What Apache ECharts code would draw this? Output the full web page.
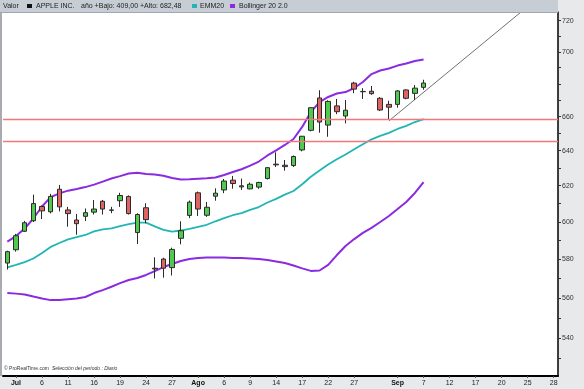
<!DOCTYPE html>
<html><head><meta charset="utf-8">
<script src="https://cdn.jsdelivr.net/npm/echarts@6/dist/echarts.min.js"></script>
<style>html,body{margin:0;padding:0;background:#e7e9eb}#c{width:584px;height:389px}</style>
</head><body><div id="c"></div><script>
// ---- data ----
const dates = ['2012-06-29','2012-07-02','2012-07-03','2012-07-05','2012-07-06','2012-07-09','2012-07-10','2012-07-11','2012-07-12','2012-07-13','2012-07-16','2012-07-17','2012-07-18','2012-07-19','2012-07-20','2012-07-23','2012-07-24','2012-07-25','2012-07-26','2012-07-27','2012-07-30','2012-07-31','2012-08-01','2012-08-02','2012-08-03','2012-08-06','2012-08-07','2012-08-08','2012-08-09','2012-08-10','2012-08-13','2012-08-14','2012-08-15','2012-08-16','2012-08-17','2012-08-20','2012-08-21','2012-08-22','2012-08-23','2012-08-24','2012-08-27','2012-08-28','2012-08-29','2012-08-30','2012-08-31','2012-09-04','2012-09-05','2012-09-06','2012-09-07','2012-09-10','2012-09-11','2012-09-12','2012-09-13','2012-09-14','2012-09-17','2012-09-18','2012-09-19','2012-09-20','2012-09-21','2012-09-24','2012-09-25','2012-09-26','2012-09-27','2012-09-28'];
const open  = [578.0,585.0,594.9,600.6,608.4,605.5,618.0,606.5,601.0,603.0,605.3,611.3,606.5,611.6,614.0,594.2,607.7,575.3,580.1,575.6,591.1,603.5,616.0,603.6,614.1,617.6,623.1,619.3,618.2,619.2,624.0,632.2,631.6,631.4,640.4,651.9,671.3,655.0,666.5,660.4,680.4,675.3,675.4,671.1,667.4,667.4,676.2,674.1,677.8];
const high  = [584.5,593.5,600.5,615.0,609.0,615.4,620.4,608.2,604.3,607.3,612.0,612.0,608.2,616.0,614.5,604.7,610.2,581.0,580.8,586.1,600.3,611.7,616.7,610.9,618.5,623.8,625.5,624.0,621.8,622.2,630.4,639.0,634.6,637.2,648.6,665.6,676.0,669.9,670.7,670.1,681.2,677.3,678.6,671.8,669.6,676.2,676.6,679.2,682.48];
const low   = [574.6,584.0,594.5,599.9,601.5,604.6,605.7,597.4,593.0,600.4,604.0,604.0,604.7,608.2,604.0,588.0,599.2,570.0,570.4,571.5,587.9,602.0,603.2,602.7,611.6,615.8,618.3,617.6,617.9,618.2,623.5,630.6,628.5,630.6,639.6,651.3,650.5,648.1,661.5,656.0,674.2,670.7,673.2,663.4,658.0,665.4,670.5,670.1,676.3];
const close = [584.0,592.5,599.5,610.0,606.0,614.0,608.2,604.5,599.0,605.0,607.0,607.0,606.3,614.5,604.5,604.0,601.2,574.9,575.3,585.2,595.2,610.8,607.0,608.0,615.8,622.6,621.2,619.9,620.8,621.8,630.2,631.8,630.8,636.6,648.4,665.4,656.8,669.2,663.0,663.9,676.7,675.1,673.9,664.0,665.7,675.6,671.1,677.3,680.44];
const ema20 = [575.8,577.0,578.5,580.4,583.3,586.5,588.6,590.5,591.8,592.9,594.8,595.9,596.5,597.7,598.8,599.6,599.6,597.5,595.6,594.7,595.3,596.2,597.3,598.4,600.3,602.0,603.6,604.8,606.5,608.1,610.6,612.6,615.0,617.0,620.8,625.0,628.6,632.0,635.0,637.8,640.8,643.7,646.6,648.6,650.4,652.7,654.5,656.8,658.6];
const bbUpper = [589.3,592.3,596.4,601.8,608.4,613.6,615.7,617.2,618.1,619.2,620.6,622.3,624.0,625.4,626.9,627.3,626.6,626.3,625.6,624.3,623.5,623.6,623.9,624.2,624.6,626.0,627.7,629.3,631.4,633.7,637.2,640.1,643.3,646.8,653.9,662.8,668.8,671.9,674.0,674.9,677.4,681.1,686.0,688.2,689.5,691.3,692.6,694.2,695.1];
const bbLower = [562.5,562.2,561.8,560.7,559.7,558.9,558.9,559.3,559.7,560.5,562.5,564.0,565.7,567.6,569.2,570.2,571.8,573.8,575.9,577.5,579.1,580.1,580.6,580.9,580.9,580.9,580.6,580.6,580.4,580.1,579.6,578.8,578.0,576.7,575.2,573.9,574.1,577.0,582.2,587.0,590.7,594.0,596.7,599.9,603.2,607.0,610.9,615.9,622.0];
const supportLevels = [657.5, 648.6];
const trendDates = ['2012-08-31','2012-09-25'];
const trendValues = [657.5, 729.3];
const tickDates = ['2012-07-02','2012-07-06','2012-07-11','2012-07-16','2012-07-19','2012-07-24','2012-07-27','2012-08-01','2012-08-06','2012-08-09','2012-08-14','2012-08-17','2012-08-22','2012-08-27','2012-09-04','2012-09-07','2012-09-12','2012-09-17','2012-09-20','2012-09-25','2012-09-28'];
const tickTexts = ['Jul','6','11','16','19','24','27','Ago','6','9','14','17','22','27','Sep','7','12','17','20','25','28'];
const monthTexts = ['Jul','Ago','Sep'];
const yLabelValues = [540,560,580,600,620,640,660,700,720];
const yTickValues = [530,540,550,560,570,580,590,600,610,620,630,640,650,660,670,680,690,700,710,720];
const yMin = 521.75, yMax = 725.7;

// ---- chart ----
const L = Math.log;
const tickMap = {}; tickDates.forEach((d,i)=>tickMap[d]=tickTexts[i]);
const showTick = (i, v) => tickMap[v] !== undefined;
const FONT = 'Liberation Sans';
const candles = open.map((o,i)=>[L(o), L(close[i]), L(low[i]), L(high[i])]);
const trendData = dates.map(d => { const k = trendDates.indexOf(d); return k >= 0 ? L(trendValues[k]) : null; });

const chart = echarts.init(document.getElementById('c'), null, {renderer:'canvas'});
chart.setOption({
  animation: false,
  backgroundColor: '#e7e9eb',
  grid: {left: 3, right: 26, top: 12, bottom: 13},
  xAxis: {
    type: 'category', data: dates, boundaryGap: true,
    axisLine: {show: true, lineStyle: {color: '#000', width: 2}},
    axisTick: {show: true, interval: showTick, alignWithLabel: true, length: 2, lineStyle: {color: '#555'}},
    axisLabel: {interval: showTick, margin: 4, fontSize: 7, color: '#222', fontFamily: FONT,
      formatter: v => { const t = tickMap[v]; if (t === undefined) return ''; return monthTexts.includes(t) ? '{b|' + t + '}' : t; },
      rich: {b: {fontWeight: 'bold', fontSize: 7, color: '#111', fontFamily: FONT}}},
    splitLine: {show: false}
  },
  yAxis: {
    type: 'value', position: 'right', min: L(yMin), max: L(yMax),
    splitLine: {show: false},
    axisLine: {show: true, lineStyle: {color: '#000', width: 1.5}},
    axisTick: {show: true, length: 3, customValues: yTickValues.map(L), lineStyle: {color: '#333'}},
    axisLabel: {customValues: yLabelValues.map(L), formatter: v => String(Math.round(Math.exp(v))),
      fontSize: 7, color: '#333', margin: 4, fontFamily: FONT}
  },
  graphic: [
    {type: 'rect', z: -10, silent: true, shape: {x: 0, y: 12, width: 558, height: 364}, style: {fill: '#ffffff'}},
    {type: 'rect', z: 10, silent: true, shape: {x: 0, y: 12, width: 2, height: 364}, style: {fill: '#a8acb0'}},
    {type: 'rect', z: 10, silent: true, shape: {x: 0, y: 0, width: 558, height: 12}, style: {fill: '#c6cdd4'}},
    {type: 'rect', z: 10, silent: true, shape: {x: 0, y: 12, width: 558, height: 1}, style: {fill: '#a0a8b0'}},
    {type: 'text', z: 11, silent: true, x: 3, y: 6, style: {text: 'Valor', font: '7px ' + FONT, fill: '#222', verticalAlign: 'middle'}},
    {type: 'rect', z: 11, silent: true, shape: {x: 27, y: 4, width: 5, height: 4}, style: {fill: '#111'}},
    {type: 'text', z: 11, silent: true, x: 36, y: 6, style: {text: 'APPLE INC.', font: '7px ' + FONT, fill: '#222', verticalAlign: 'middle'}},
    {type: 'text', z: 11, silent: true, x: 81, y: 6, style: {text: 'año +Bajo: 409,00 +Alto: 682,48', font: '7px ' + FONT, fill: '#222', verticalAlign: 'middle'}},
    {type: 'rect', z: 11, silent: true, shape: {x: 192, y: 4, width: 5, height: 4}, style: {fill: '#22b5b5'}},
    {type: 'text', z: 11, silent: true, x: 200, y: 6, style: {text: 'EMM20', font: '7px ' + FONT, fill: '#222', verticalAlign: 'middle'}},
    {type: 'rect', z: 11, silent: true, shape: {x: 230, y: 4, width: 5, height: 4}, style: {fill: '#8b2be0'}},
    {type: 'text', z: 11, silent: true, x: 239, y: 6, style: {text: 'Bollinger 20 2.0', font: '7px ' + FONT, fill: '#222', verticalAlign: 'middle'}},
    {type: 'text', z: 11, silent: true, x: 4, y: 369, style: {text: '© ProRealTime.com', font: '5px ' + FONT, fill: '#333', verticalAlign: 'middle'}},
    {type: 'text', z: 11, silent: true, x: 52, y: 369, style: {text: 'Selección del período : Diario', font: 'italic 5px ' + FONT, fill: '#333', verticalAlign: 'middle'}}
  ],
  series: [
    {type: 'line', name: 'trend', data: trendData, connectNulls: true, symbol: 'none', clip: true,
     lineStyle: {color: '#333', width: 0.7}, z: 2,
     markLine: {silent: true, symbol: 'none', label: {show: false},
       lineStyle: {color: '#f07878', width: 1.4, type: 'solid'},
       data: supportLevels.map(v => ({yAxis: L(v)}))}},
    {type: 'line', name: 'EMM20', data: ema20.map(L), symbol: 'none', lineStyle: {color: '#22b5b5', width: 1.8}, z: 3},
    {type: 'line', name: 'BBup', data: bbUpper.map(L), symbol: 'none', lineStyle: {color: '#8b2be0', width: 2}, z: 3},
    {type: 'line', name: 'BBlo', data: bbLower.map(L), symbol: 'none', lineStyle: {color: '#8b2be0', width: 2}, z: 3},
    {type: 'candlestick', name: 'APPLE INC.', data: candles, barWidth: 5, z: 4,
     itemStyle: {color: '#4fc94f', color0: '#de6464', borderColor: '#2b2b2b', borderColor0: '#2b2b2b', borderWidth: 1},
     markLine: {silent: true, symbol: 'none', lineStyle: {opacity: 0},
       label: {show: true, position: 'end', distance: 1, formatter: () => close[close.length-1].toFixed(2),
         backgroundColor: '#f5c20a', borderColor: '#222', borderWidth: 1, padding: [1, 1, 0, 1],
         fontSize: 7, color: '#222', fontFamily: FONT},
       data: [{yAxis: L(close[close.length-1])}]}}
  ]
});
</script></body></html>
